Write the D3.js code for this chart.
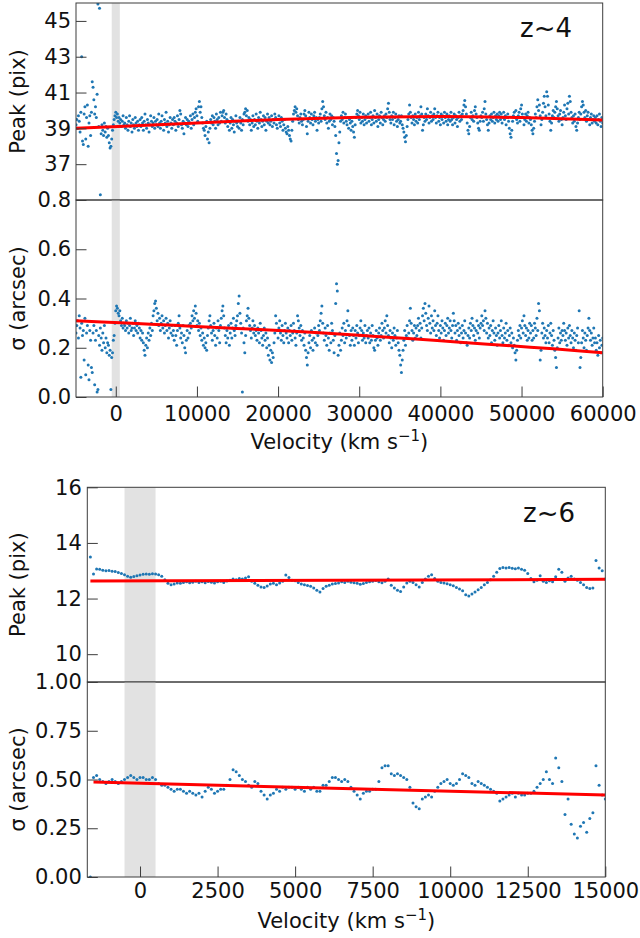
<!DOCTYPE html>
<html>
<head>
<meta charset="utf-8">
<script src="https://cdn.jsdelivr.net/npm/d3@7"></script>
<style>
body { margin: 0; background: #fff; }
svg { display: block; font-family: "DejaVu Sans", sans-serif; }
</style>
</head>
<body>
<svg id="chart" width="640" height="938"></svg>
<script>
// spectral channel grids (km/s)
var z4Start = -4900, z4Step = 100;
var z6Start = -1600, z6Step = 100;

// z~4 peak position per channel (pix)
var peakZ4 = [
    39.2, 39.5, 39.0, 39.7, 39.4, 38.8, 39.9, 43.0, 38.3, 38.1, 39.8, 40.2, 38.4, 39.6, 40.3, 38.0, 39.3, 39.7, 38.6, 39.9,
    41.6, 41.3, 40.6, 39.8, 40.2, 39.6, 40.9, 45.95, 39.1, 45.7, 35.3, 38.7, 39.2, 38.9, 38.6, 39.3, 38.8, 39.1, 38.5, 39.0,
    38.6, 38.2, 37.9, 38.0, 38.4, 38.9, 39.2, 39.5, 39.7, 39.9, 39.6, 39.8, 39.4, 39.6, 39.3, 39.5, 39.1, 39.4, 39.7, 39.2,
    39.3, 39.0, 39.6, 39.2, 38.9, 39.4, 39.7, 39.1, 39.3, 38.8, 39.5, 39.2, 39.0, 39.6, 39.3, 39.1, 39.4, 38.9, 39.2, 39.5,
    39.1, 39.6, 39.3, 38.9, 39.4, 39.8, 39.2, 39.0, 39.5, 39.3, 38.8, 39.2, 39.7, 39.4, 39.1, 39.3, 39.6, 39.0, 39.4, 39.2,
    39.5, 39.1, 39.8, 39.3, 39.0, 39.4, 39.7, 39.2, 38.9, 39.5, 39.3, 39.9, 39.1, 39.4, 38.8, 39.2, 39.6, 39.3, 39.0, 39.5,
    39.2, 39.6, 39.4, 38.9, 39.3, 39.7, 39.1, 39.5, 40.0, 39.8, 39.2, 39.0, 39.4, 38.7, 39.3, 39.6, 39.2, 39.5, 39.1, 39.4,
    39.3, 39.7, 39.0, 39.5, 39.8, 39.2, 39.6, 39.9, 40.1, 39.7, 39.4, 40.2, 40.5, 39.9, 40.2, 39.6, 39.3, 39.0, 38.9, 38.6,
    39.1, 39.4, 38.4, 38.8, 38.2, 39.0, 39.5, 39.3, 39.7, 39.2, 39.6, 39.4, 39.0, 39.8, 39.5, 39.2, 39.6, 39.3, 39.9, 39.4,
    39.7, 39.9, 40.0, 39.6, 39.3, 39.8, 39.5, 39.1, 39.4, 38.9, 39.3, 39.6, 39.0, 39.5, 39.2, 38.8, 39.4, 39.7, 39.3, 39.1,
    39.4, 39.0, 39.6, 39.3, 38.9, 39.5, 39.2, 39.8, 39.9, 40.1, 39.7, 40.0, 39.4, 39.6, 39.2, 39.5, 38.9, 39.3, 39.7, 39.1,
    39.5, 39.2, 39.8, 39.4, 39.0, 39.6, 39.3, 39.9, 39.5, 39.1, 39.4, 39.7, 39.2, 39.6, 38.9, 39.4, 39.8, 39.3, 39.6, 39.2,
    39.4, 39.7, 39.1, 39.5, 39.3, 39.8, 39.6, 39.2, 39.0, 39.5, 39.7, 39.3, 39.1, 39.6, 39.4, 38.9, 39.2, 39.5, 39.0, 38.8,
    38.7, 39.1, 38.9, 38.6, 38.4, 38.3, 38.9, 39.4, 39.8, 40.0, 40.2, 39.9, 40.1, 39.7, 39.5, 39.3, 39.6, 39.8, 39.4, 39.2,
    39.5, 39.8, 40.0, 39.7, 39.1, 38.7, 39.4, 39.9, 39.6, 39.3, 39.8, 39.5, 39.2, 39.7, 39.9, 39.4, 39.6, 38.9, 39.5, 39.3,
    39.6, 39.8, 39.4, 40.1, 40.5, 40.2, 39.7, 39.5, 39.9, 39.3, 39.6, 39.0, 39.4, 39.8, 39.5, 39.7, 39.2, 39.6, 39.4, 39.1,
    38.6, 37.6, 37.0, 37.2, 38.2, 38.8, 39.4, 39.7, 39.5, 39.9, 39.3, 39.6, 39.8, 39.4, 39.2, 39.6, 39.0, 39.5, 39.3, 38.9,
    39.4, 39.1, 38.8, 38.5, 39.2, 39.6, 39.8, 40.0, 39.7, 39.5, 39.9, 39.3, 39.6, 39.4, 39.8, 39.2, 39.5, 39.7, 39.3, 39.6,
    39.8, 39.4, 39.6, 39.9, 39.2, 39.5, 39.7, 39.3, 40.0, 39.6, 39.4, 39.8, 39.1, 39.5, 39.7, 39.3, 39.9, 39.6, 39.2, 39.5,
    39.7, 39.4, 39.8, 39.6, 40.1, 40.4, 39.9, 39.5, 39.3, 39.7, 39.5, 39.9, 39.2, 39.6, 39.8, 39.4, 39.1, 39.5, 39.7, 39.3,
    39.4, 39.7, 39.2, 39.0, 38.8, 38.5, 38.25, 38.6, 39.1, 39.5, 39.8, 40.3, 39.9, 39.6, 39.3, 39.7, 39.5, 39.2, 39.8, 39.4,
    39.6, 39.3, 39.9, 39.5, 39.7, 40.2, 39.8, 38.9, 39.2, 39.6, 39.4, 39.8, 39.5, 40.1, 39.7, 39.3, 39.6, 39.9, 39.4, 39.7,
    39.5, 39.8, 40.1, 39.6, 39.3, 39.7, 39.9, 39.4, 39.6, 39.2, 39.8, 39.5, 39.7, 39.3, 39.9, 39.6, 39.4, 39.8, 39.2, 39.5,
    39.7, 39.4, 39.9, 39.5, 39.2, 39.6, 39.8, 39.3, 39.7, 39.5, 39.1, 39.6, 39.9, 39.4, 39.7, 39.5, 39.8, 40.0, 40.3, 40.55,
    40.2, 39.8, 39.3, 38.9, 38.7, 39.1, 39.6, 39.9, 39.5, 39.7, 39.4, 40.0, 40.2, 39.8, 39.6, 39.3, 39.0, 38.9, 39.4, 39.7,
    39.6, 39.9, 39.4, 40.1, 40.5, 39.8, 39.5, 39.2, 38.9, 39.3, 39.7, 39.5, 39.8, 39.4, 39.6, 39.9, 39.3, 39.7, 39.5, 39.8,
    39.4, 39.7, 39.9, 39.5, 39.8, 39.3, 39.6, 39.9, 39.5, 39.7, 39.2, 39.6, 39.8, 39.4, 39.0, 38.7, 38.5, 38.9, 39.4, 39.7,
    39.9, 39.6, 40.0, 39.5, 39.3, 39.7, 39.9, 39.4, 40.1, 40.3, 39.8, 39.6, 39.2, 39.5, 39.8, 39.4, 39.7, 39.9, 39.3, 39.6,
    39.5, 39.2, 38.9, 38.7, 39.0, 39.4, 39.8, 39.6, 40.2, 40.6, 40.0, 40.3, 39.7, 39.2, 39.5, 39.9, 40.4, 40.8, 40.2, 39.7,
    41.05, 40.8, 40.3, 39.8, 39.4, 38.9, 39.3, 39.7, 40.0, 39.6, 39.9, 40.2, 40.5, 40.1, 39.7, 39.4, 39.8, 40.0, 39.5, 39.2,
    39.6, 39.9, 40.3, 39.7, 39.5, 40.1, 40.4, 39.8, 40.8, 40.5, 39.9, 39.6, 39.3, 39.7, 39.4, 39.8, 39.1, 38.9, 39.3, 39.6,
    39.9, 39.5, 39.8, 40.2, 40.5, 40.3, 39.9, 39.6, 40.0, 39.4, 39.7, 39.9, 39.5, 39.2, 39.6, 39.8, 39.3, 39.5, 39.7, 39.4,
    39.6, 39.3, 39.7, 39.2, 39.5, 39.8, 39.4, 39.1, 39.6, 39.3
];

// z~4 width per channel (arcsec)
var sigmaZ4 = [
    0.26, 0.29, 0.31, 0.24, 0.33, 0.28, 0.08, 0.30, 0.25, 0.27, 0.15, 0.32, 0.09, 0.26, 0.29, 0.13, 0.07, 0.27, 0.23, 0.12,
    0.10, 0.26, 0.29, 0.05, 0.23, 0.27, 0.02, 0.03, 0.25, 0.21, 0.28, 0.24, 0.19, 0.26, 0.22, 0.29, 0.20, 0.24, 0.18, 0.22,
    0.21, 0.17, 0.19, 0.03, 0.16, 0.18, 0.23, 0.25, 0.30, 0.35, 0.37, 0.36, 0.34, 0.33, 0.35, 0.31, 0.29, 0.32, 0.28, 0.30,
    0.29, 0.27, 0.31, 0.28, 0.30, 0.26, 0.29, 0.32, 0.27, 0.28, 0.30, 0.25, 0.28, 0.31, 0.27, 0.29, 0.26, 0.30, 0.28, 0.24,
    0.27, 0.23, 0.26, 0.22, 0.19, 0.17, 0.21, 0.24, 0.20, 0.26, 0.23, 0.28, 0.25, 0.30, 0.27, 0.33, 0.35, 0.38, 0.39, 0.36,
    0.31, 0.34, 0.29, 0.32, 0.27, 0.30, 0.33, 0.28, 0.31, 0.26, 0.29, 0.32, 0.27, 0.30, 0.24, 0.28, 0.31, 0.26, 0.29, 0.25,
    0.27, 0.23, 0.29, 0.25, 0.21, 0.27, 0.30, 0.33, 0.28, 0.24, 0.26, 0.22, 0.29, 0.25, 0.20, 0.18, 0.23, 0.27, 0.24, 0.29,
    0.26, 0.30, 0.28, 0.33, 0.31, 0.35, 0.32, 0.37, 0.34, 0.29, 0.31, 0.27, 0.30, 0.25, 0.28, 0.23, 0.26, 0.21, 0.24, 0.20,
    0.22, 0.19, 0.25, 0.28, 0.31, 0.33, 0.29, 0.26, 0.23, 0.27, 0.30, 0.25, 0.21, 0.28, 0.24, 0.31, 0.27, 0.22, 0.29, 0.32,
    0.35, 0.37, 0.33, 0.28, 0.25, 0.22, 0.27, 0.24, 0.29, 0.21, 0.26, 0.30, 0.24, 0.28, 0.32, 0.27, 0.25, 0.29, 0.31, 0.33,
    0.38, 0.41, 0.34, 0.30, 0.26, 0.02, 0.28, 0.22, 0.18, 0.25, 0.31, 0.33, 0.36, 0.32, 0.29, 0.27, 0.24, 0.28, 0.31, 0.26,
    0.29, 0.25, 0.27, 0.23, 0.28, 0.26, 0.22, 0.30, 0.27, 0.24, 0.21, 0.25, 0.28, 0.23, 0.26, 0.20, 0.24, 0.17, 0.21, 0.15,
    0.19, 0.14, 0.18, 0.16, 0.22, 0.26, 0.33, 0.30, 0.27, 0.24, 0.28, 0.31, 0.26, 0.23, 0.29, 0.25, 0.22, 0.27, 0.30, 0.26,
    0.24, 0.28, 0.22, 0.27, 0.25, 0.29, 0.23, 0.26, 0.30, 0.27, 0.24, 0.21, 0.26, 0.33, 0.31, 0.28, 0.25, 0.29, 0.23, 0.27,
    0.24, 0.21, 0.26, 0.19, 0.16, 0.13, 0.18, 0.22, 0.25, 0.20, 0.27, 0.23, 0.19, 0.24, 0.28, 0.22, 0.26, 0.21, 0.25, 0.29,
    0.27, 0.31, 0.34, 0.37, 0.30, 0.26, 0.23, 0.28, 0.25, 0.21, 0.29, 0.24, 0.19, 0.26, 0.22, 0.30, 0.27, 0.23, 0.18, 0.25,
    0.38, 0.46, 0.43, 0.17, 0.21, 0.26, 0.19, 0.23, 0.28, 0.25, 0.30, 0.22, 0.27, 0.24, 0.31, 0.35, 0.29, 0.25, 0.21, 0.27,
    0.23, 0.28, 0.25, 0.21, 0.27, 0.24, 0.29, 0.26, 0.22, 0.25, 0.28, 0.31, 0.27, 0.23, 0.26, 0.24, 0.29, 0.22, 0.25, 0.27,
    0.24, 0.28, 0.22, 0.26, 0.23, 0.29, 0.25, 0.20, 0.19, 0.23, 0.27, 0.24, 0.21, 0.26, 0.28, 0.23, 0.25, 0.30, 0.27, 0.24,
    0.28, 0.31, 0.26, 0.33, 0.29, 0.25, 0.22, 0.27, 0.24, 0.20, 0.26, 0.23, 0.28, 0.25, 0.21, 0.24, 0.27, 0.22, 0.19, 0.17,
    0.13, 0.10, 0.15, 0.19, 0.23, 0.27, 0.21, 0.25, 0.29, 0.24, 0.26, 0.31, 0.36, 0.30, 0.27, 0.23, 0.26, 0.29, 0.24, 0.28,
    0.25, 0.29, 0.32, 0.27, 0.30, 0.24, 0.28, 0.33, 0.36, 0.31, 0.38, 0.34, 0.29, 0.27, 0.32, 0.37, 0.30, 0.26, 0.33, 0.28,
    0.31, 0.27, 0.35, 0.29, 0.25, 0.30, 0.33, 0.27, 0.24, 0.29, 0.26, 0.31, 0.28, 0.23, 0.27, 0.30, 0.25, 0.29, 0.32, 0.26,
    0.28, 0.31, 0.27, 0.24, 0.29, 0.34, 0.31, 0.26, 0.29, 0.23, 0.27, 0.30, 0.25, 0.28, 0.22, 0.26, 0.29, 0.24, 0.27, 0.31,
    0.26, 0.22, 0.21, 0.25, 0.28, 0.24, 0.30, 0.27, 0.32, 0.29, 0.25, 0.28, 0.23, 0.27, 0.31, 0.26, 0.29, 0.24, 0.28, 0.30,
    0.33, 0.29, 0.31, 0.27, 0.35, 0.32, 0.26, 0.30, 0.24, 0.28, 0.25, 0.29, 0.22, 0.27, 0.31, 0.26, 0.23, 0.28, 0.25, 0.21,
    0.26, 0.29, 0.24, 0.27, 0.31, 0.25, 0.22, 0.28, 0.24, 0.26, 0.30, 0.23, 0.27, 0.21, 0.25, 0.28, 0.22, 0.26, 0.20, 0.24,
    0.21, 0.18, 0.15, 0.19, 0.23, 0.27, 0.25, 0.29, 0.24, 0.28, 0.31, 0.26, 0.33, 0.29, 0.25, 0.28, 0.23, 0.27, 0.24, 0.30,
    0.26, 0.29, 0.23, 0.27, 0.24, 0.30, 0.28, 0.25, 0.32, 0.27, 0.38, 0.35, 0.15, 0.19, 0.26, 0.30, 0.24, 0.28, 0.25, 0.22,
    0.27, 0.24, 0.29, 0.22, 0.26, 0.30, 0.25, 0.21, 0.27, 0.23, 0.19, 0.16, 0.12, 0.20, 0.24, 0.28, 0.22, 0.26, 0.23, 0.27,
    0.25, 0.30, 0.27, 0.23, 0.26, 0.21, 0.28, 0.24, 0.29, 0.25, 0.22, 0.27, 0.24, 0.20, 0.26, 0.23, 0.19, 0.25, 0.28, 0.22,
    0.35, 0.12, 0.16, 0.22, 0.27, 0.24, 0.20, 0.26, 0.23, 0.19, 0.25, 0.28, 0.32, 0.27, 0.23, 0.26, 0.21, 0.24, 0.28, 0.22,
    0.24, 0.19, 0.22, 0.17, 0.25, 0.20, 0.23, 0.18, 0.21, 0.24
];

// z~6 peak position per channel (pix)
var peakZ6 = [
    13.49, 12.88, 13.06, 13.05, 13.02, 13.00, 13.01, 12.98, 12.97, 12.94,
    12.90, 12.86, 12.80, 12.77, 12.79, 12.82, 12.85, 12.87, 12.88, 12.87,
    12.89, 12.88, 12.86, 12.80, 12.68, 12.55, 12.50, 12.52, 12.56, 12.55,
    12.58, 12.60, 12.57, 12.59, 12.62, 12.58, 12.60, 12.57, 12.61, 12.59,
    12.56, 12.60, 12.62, 12.58, 12.63, 12.66, 12.70, 12.68, 12.72, 12.70,
    12.74, 12.78, 12.62, 12.55, 12.48, 12.42, 12.40, 12.45, 12.52, 12.55,
    12.50, 12.56, 12.62, 12.85, 12.76, 12.66, 12.64, 12.58, 12.52, 12.50,
    12.47, 12.44, 12.38, 12.30, 12.24, 12.36, 12.44, 12.48, 12.52, 12.54,
    12.56, 12.60, 12.58, 12.62, 12.59, 12.57, 12.55, 12.51, 12.54, 12.58,
    12.60, 12.62, 12.65, 12.60, 12.57, 12.62, 12.70, 12.48, 12.38, 12.30,
    12.25, 12.42, 12.56, 12.62, 12.58, 12.50, 12.42, 12.58, 12.70, 12.80,
    12.86, 12.72, 12.62, 12.58, 12.56, 12.53, 12.50, 12.46, 12.40, 12.34,
    12.28, 12.14, 12.09, 12.16, 12.24, 12.32, 12.40, 12.50, 12.58, 12.68,
    12.80, 12.95, 13.08, 13.12, 13.10, 13.12, 13.09, 13.07, 13.10, 13.05,
    13.02, 12.90, 12.72, 12.60, 12.66, 12.82, 12.62, 12.58, 12.64, 12.60,
    12.78, 13.05, 12.95, 12.62, 12.74, 12.80, 12.70, 12.66, 12.58, 12.50,
    12.40, 12.36, 12.38, 13.37, 13.10, 13.00, 12.70
];

// z~6 width per channel (arcsec)
var sigmaZ6 = [
    0.00, 0.51, 0.52, 0.50, 0.49, 0.48, 0.49, 0.50, 0.49, 0.48,
    0.49, 0.50, 0.51, 0.52, 0.51, 0.50, 0.51, 0.51, 0.50, 0.50,
    0.51, 0.50, 0.48, 0.47, 0.47, 0.46, 0.45, 0.44, 0.45, 0.45,
    0.44, 0.43, 0.44, 0.43, 0.42, 0.43, 0.41, 0.44, 0.46, 0.45,
    0.43, 0.44, 0.45, 0.45, 0.47, 0.50, 0.55, 0.54, 0.52, 0.50,
    0.49, 0.47, 0.46, 0.49, 0.48, 0.44, 0.42, 0.40, 0.42, 0.43,
    0.45, 0.44, 0.46, 0.45, 0.46, 0.46, 0.45, 0.46, 0.45, 0.44,
    0.46, 0.45, 0.46, 0.44, 0.44, 0.47, 0.47, 0.49, 0.51, 0.51,
    0.50, 0.49, 0.50, 0.49, 0.46, 0.44, 0.42, 0.40, 0.43, 0.44,
    0.44, 0.45, 0.45, 0.49, 0.56, 0.57, 0.57, 0.53, 0.52, 0.53,
    0.52, 0.51, 0.50, 0.46, 0.38, 0.36, 0.35, 0.40, 0.41, 0.42,
    0.41, 0.44, 0.46, 0.48, 0.49, 0.50, 0.48, 0.47, 0.48, 0.50,
    0.53, 0.52, 0.51, 0.48, 0.47, 0.49, 0.48, 0.47, 0.46, 0.45,
    0.44, 0.43, 0.39, 0.40, 0.41, 0.42, 0.43, 0.41, 0.43, 0.42,
    0.42, 0.43, 0.43, 0.44, 0.46, 0.48, 0.50, 0.54, 0.50, 0.48,
    0.61, 0.56, 0.49, 0.32, 0.40, 0.27, 0.22, 0.20, 0.26, 0.28,
    0.23, 0.30, 0.33, 0.57, 0.47, 0.42, 0.40
];

// fitted trends [velocity, value]
var fitPeakZ4 = [[-4900, 39.0], [10000, 39.3], [20000, 39.5], [30000, 39.62], [40000, 39.66], [50000, 39.6], [60000, 39.47]];
var fitSigmaZ4 = [[-4900, 0.31], [28000, 0.255], [60000, 0.18]];
var fitPeakZ6 = [[-1600, 12.63], [15000, 12.69]];
var fitSigmaZ6 = [[-1500, 0.487], [15000, 0.42]];

// masked velocity range
var maskZ4 = [-500, 500];
var maskZ6 = [-500, 500];

var velTicksZ4 = [0, 10000, 20000, 30000, 40000, 50000, 60000];
var velTicksZ6 = [0, 2500, 5000, 7500, 10000, 12500, 15000];
var peakTicksZ4 = [37, 39, 41, 43, 45];
var sigmaTicksZ4 = [0.0, 0.2, 0.4, 0.6, 0.8];
var peakTicksZ6 = [10, 12, 14, 16];
var sigmaTicksZ6 = [0.0, 0.25, 0.5, 0.75, 1.0];

var svg = d3.select("#chart");
var frameColor = "#3c3c3c";
var dotColor = "#1f77b4";
var fontSize = 21;

function channels(start, step, values) {
    return values.map(function (d, i) {
        return {v: start + i * step, y: d};
    });
}

function drawPanel(fig, yDomain, yTicks, yFormat, values, start, step, fit, mask, top, bottom, yLabel, id) {
    let x = fig.x;
    let y = d3.scaleLinear().domain(yDomain).range([bottom, top]);
    let g = svg.append("g").attr("class", "panel");

    svg.append("clipPath").attr("id", id)
        .append("rect")
        .attr("x", fig.left).attr("y", top)
        .attr("width", fig.right - fig.left).attr("height", bottom - top);

    let plot = g.append("g").attr("clip-path", `url(#${id})`);
    plot.append("rect")
        .attr("x", x(mask[0])).attr("y", top)
        .attr("width", x(mask[1]) - x(mask[0])).attr("height", bottom - top)
        .attr("fill", "#e2e2e2");

    plot.append("g").selectAll("circle")
        .data(channels(start, step, values))
        .enter().append("circle")
        .attr("cx", function (d) { return x(d.v); })
        .attr("cy", function (d) { return y(d.y); })
        .attr("r", 1.5)
        .attr("fill", dotColor);

    plot.append("path")
        .datum(fit)
        .attr("fill", "none")
        .attr("stroke", "#ff0000")
        .attr("stroke-width", 3)
        .attr("d", d3.line()
            .x(function (d) { return x(d[0]); })
            .y(function (d) { return y(d[1]); })
            .curve(d3.curveMonotoneX));

    let axis = g.append("g")
        .attr("transform", `translate(${fig.left},0)`)
        .call(d3.axisLeft(y).tickValues(yTicks).tickFormat(yFormat)
            .tickSizeInner(-10.5).tickSizeOuter(0).tickPadding(fig.yPad));
    axis.select(".domain").remove();
    axis.selectAll("line").attr("stroke", frameColor);
    axis.selectAll("text").attr("font-size", fontSize).attr("fill", "#111")
        .attr("font-family", "DejaVu Sans");

    g.append("rect")
        .attr("x", fig.left).attr("y", top)
        .attr("width", fig.right - fig.left).attr("height", bottom - top)
        .attr("fill", "none").attr("stroke", frameColor).attr("stroke-width", 1);

    g.append("text")
        .attr("transform", `translate(${fig.labelX},${(top + bottom) / 2}) rotate(-90)`)
        .attr("text-anchor", "middle")
        .attr("font-size", fontSize)
        .attr("fill", "#111")
        .text(yLabel);
    return y;
}

function drawVelocityAxis(fig, ticks) {
    let axis = svg.append("g")
        .attr("transform", `translate(0,${fig.bottom})`)
        .call(d3.axisBottom(fig.x).tickValues(ticks).tickFormat(d3.format("d"))
            .tickSizeInner(-10.5).tickSizeOuter(0).tickPadding(fig.xPad));
    axis.select(".domain").remove();
    axis.selectAll("line").attr("stroke", frameColor);
    axis.selectAll("text").attr("font-size", fontSize).attr("fill", "#111")
        .attr("font-family", "DejaVu Sans");

    let label = svg.append("text")
        .attr("x", (fig.left + fig.right) / 2)
        .attr("y", fig.xLabelY)
        .attr("text-anchor", "middle")
        .attr("font-size", fontSize)
        .attr("fill", "#111");
    label.append("tspan").text("Velocity (km s");
    label.append("tspan").attr("font-size", 15).attr("dy", -8).text("\u22121");
    label.append("tspan").attr("dy", 8).text(")");
}

function drawFigure(fig) {
    fig.x = d3.scaleLinear().domain(fig.xDomain).range([fig.left, fig.right]);
    drawPanel(fig, fig.peakDomain, fig.peakTicks, fig.peakFormat, fig.peak, fig.start, fig.step,
        fig.peakFit, fig.mask, fig.top, fig.mid, "Peak (pix)", fig.name + "-peak");
    drawPanel(fig, fig.sigmaDomain, fig.sigmaTicks, fig.sigmaFormat, fig.sigma, fig.start, fig.step,
        fig.sigmaFit, fig.mask, fig.mid, fig.bottom, "\u03c3 (arcsec)", fig.name + "-sigma");
    drawVelocityAxis(fig, fig.velTicks);

    svg.append("text")
        .attr("x", fig.tagX).attr("y", fig.tagY)
        .attr("font-size", 26)
        .attr("fill", "#111")
        .text(fig.tag);
}

drawFigure({
    name: "z4", tag: "z~4", tagX: 520, tagY: 36.5,
    left: 76, right: 602.7, top: 3, mid: 200, bottom: 397,
    xDomain: [-4900, 60000], velTicks: velTicksZ4,
    peakDomain: [35, 46], peakTicks: peakTicksZ4, peakFormat: d3.format("d"),
    sigmaDomain: [0, 0.8], sigmaTicks: sigmaTicksZ4, sigmaFormat: d3.format(".1f"),
    peak: peakZ4, sigma: sigmaZ4, start: z4Start, step: z4Step,
    peakFit: fitPeakZ4, sigmaFit: fitSigmaZ4, mask: maskZ4,
    yPad: 5, xPad: 9, labelX: 25, xLabelY: 449
});

drawFigure({
    name: "z6", tag: "z~6", tagX: 523, tagY: 521.5,
    left: 87.3, right: 605.3, top: 487.3, mid: 682, bottom: 877,
    xDomain: [-1700, 15000], velTicks: velTicksZ6,
    peakDomain: [9, 16], peakTicks: peakTicksZ6, peakFormat: d3.format("d"),
    sigmaDomain: [0, 1], sigmaTicks: sigmaTicksZ6, sigmaFormat: d3.format(".2f"),
    peak: peakZ6, sigma: sigmaZ6, start: z6Start, step: z6Step,
    peakFit: fitPeakZ6, sigmaFit: fitSigmaZ6, mask: maskZ6,
    yPad: 5.5, xPad: 6, labelX: 25, xLabelY: 928
});
</script>
</body>
</html>
